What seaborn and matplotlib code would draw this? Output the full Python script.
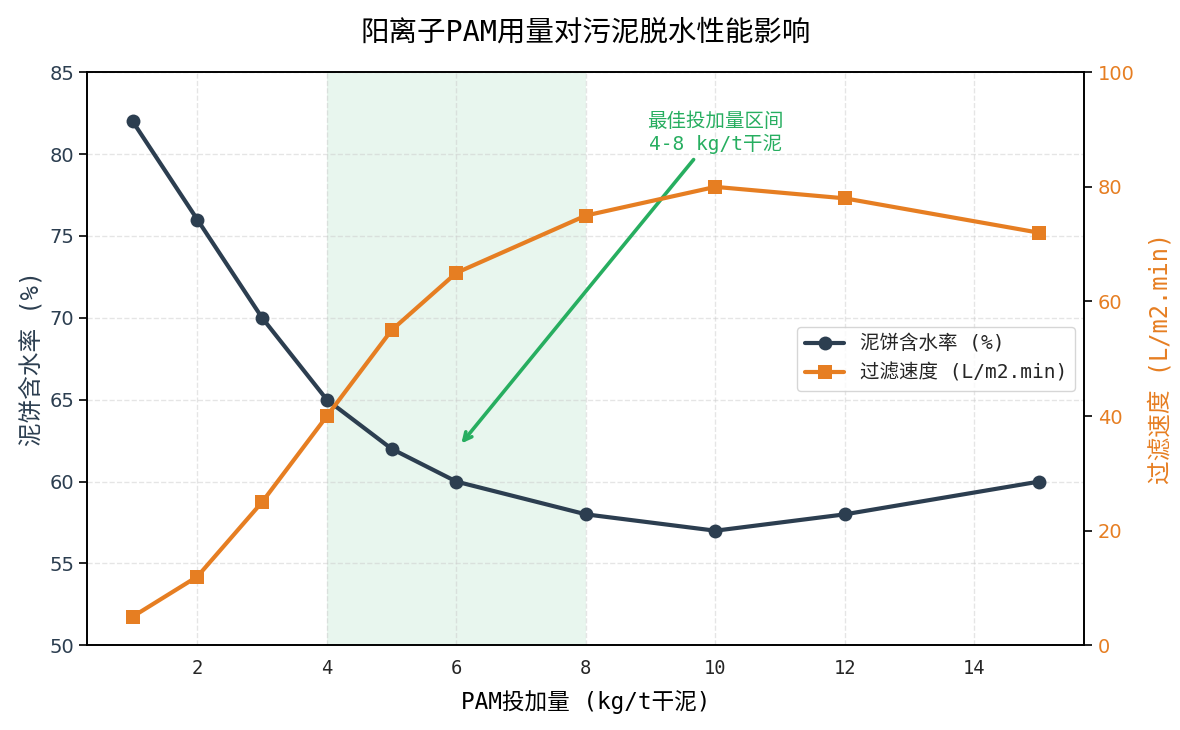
import matplotlib
matplotlib.use("Agg")
import matplotlib.pyplot as plt
import seaborn as sns
import pandas as pd
from matplotlib import font_manager as fm

dose = [1, 2, 3, 4, 5, 6, 8, 10, 12, 15]
water = [82, 76, 70, 65, 62, 60, 58, 57, 58, 60]
speed = [5, 12, 25, 40, 55, 65, 75, 80, 78, 72]
label_water = "泥饼含水率 (%)"
label_speed = "过滤速度 (L/m2.min)"

sns.set_theme(style="white")
monofam = ['DejaVu Sans Mono', 'Noto Sans CJK SC']
plt.rcParams['font.family'] = monofam
plt.rcParams['axes.unicode_minus'] = False

navy = "#2c3e50"
orange = "#e67e22"
green = "#27ae60"

df = pd.DataFrame({"dose": dose, "water": water, "speed": speed})

fig, ax1 = plt.subplots(figsize=(11.8, 7.3), dpi=100)
fig.subplots_adjust(left=0.074, right=0.919, top=0.901, bottom=0.116)
ax2 = ax1.twinx()

ax1.axvspan(4, 8, color=green, alpha=0.1, lw=0, zorder=0)

sns.lineplot(data=df, x="dose", y="water", ax=ax1, color=navy, lw=3,
             marker="o", markersize=10, markeredgewidth=0, label=label_water, legend=False)
sns.lineplot(data=df, x="dose", y="speed", ax=ax2, color=orange, lw=3,
             marker="s", markersize=10, markeredgewidth=0, label=label_speed, legend=False)

ax1.set_ylim(50, 85)
ax2.set_ylim(0, 100)
ax1.set_xlim(0.3, 15.7)
ax1.set_xticks([2, 4, 6, 8, 10, 12, 14])

ax1.grid(True, linestyle="--", color="#cccccc", alpha=0.5, lw=1)
ax1.set_axisbelow(True)

for a in (ax1, ax2):
    for s in a.spines.values():
        s.set_color("black")
        s.set_linewidth(1.2)
ax1.tick_params(axis="both", which="both", direction="out", length=6, width=1.2, color="black", labelsize=13.5)
ax1.tick_params(axis="y", labelcolor=navy)
ax2.tick_params(axis="y", direction="out", length=6, width=1.2, color="black", labelsize=14, labelcolor=orange)
for lab in ax1.get_yticklabels() + ax2.get_yticklabels():
    lab.set_family("DejaVu Sans")
    lab.set_fontsize(14)

ax1.set_xlabel("PAM投加量 (kg/t干泥)", fontsize=16.3, color="black", labelpad=9)
ax1.set_ylabel(label_water, fontsize=17, color=navy)
ax2.set_ylabel(label_speed, fontsize=17, color=orange, labelpad=10)

ax1.set_title("阳离子PAM用量对污泥脱水性能影响", fontsize=20.5, pad=23, color="black")

ax1.annotate("最佳投加量区间\n4-8 kg/t干泥", xy=(6.05, 62.2), xytext=(10, 80.0),
             ha="center", va="bottom", fontsize=14, color=green,
             arrowprops=dict(arrowstyle="->", color=green, lw=2.6))

h1, l1 = ax1.get_legend_handles_labels()
h2, l2 = ax2.get_legend_handles_labels()
leg = ax1.legend(h1 + h2, l1 + l2, loc="center right", frameon=True,
                 edgecolor="#cccccc", fancybox=True,
                 prop=fm.FontProperties(family=monofam, size=14))

fig.savefig("out.png", dpi=100)
